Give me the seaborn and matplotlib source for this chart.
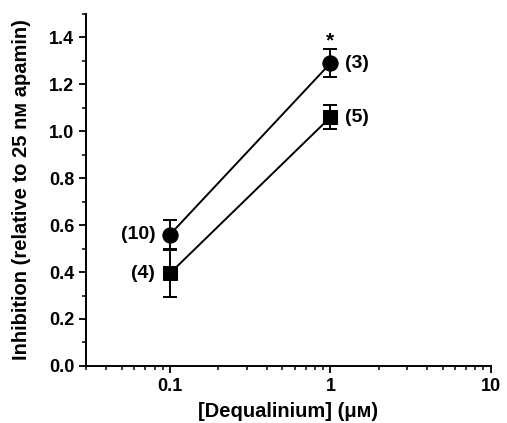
import numpy as np
import pandas as pd
import seaborn as sns
import matplotlib.pyplot as plt
from matplotlib.ticker import LogLocator, MultipleLocator, FixedFormatter, FixedLocator

# ── Data ─────────────────────────────────────────────────────────────────────
conc        = [0.1, 1.0]
circle_mean = [0.56, 1.29]
circle_err  = [0.06, 0.06]
square_mean = [0.395, 1.06]
square_err  = [0.10, 0.05]
circle_n    = ["(10)", "(3)"]
square_n    = ["(4)", "(5)"]

df = pd.DataFrame({
    "conc"  : conc * 2,
    "value" : circle_mean + square_mean,
    "series": ["circle"] * 2 + ["square"] * 2,
})

sns.set_style("ticks")
plt.rcParams["font.family"] = ["Liberation Sans", "DejaVu Sans"]
plt.rcParams["font.weight"] = "bold"
plt.rcParams["text.color"] = "black"
plt.rcParams["axes.labelcolor"] = "black"
plt.rcParams["xtick.color"] = "black"
plt.rcParams["ytick.color"] = "black"
plt.rcParams["axes.edgecolor"] = "black"

fig = plt.figure(figsize=(5.07, 4.23), dpi=100)
ax = fig.add_axes([0.170, 0.135, 0.798, 0.832])

sns.lineplot(
    data=df, x="conc", y="value", style="series",
    markers={"circle": "o", "square": "s"}, dashes=False,
    color="black", linewidth=1.4, markersize=11, ax=ax, legend=False,
    markeredgecolor="black",
)
# squares are a little smaller than circles in the original
for ln in ax.lines:
    if ln.get_marker() == "s":
        ln.set_markersize(9.5)

for mean, err in [(circle_mean, circle_err), (square_mean, square_err)]:
    ax.errorbar(conc, mean, yerr=err, fmt="none", ecolor="black",
                elinewidth=1.4, capsize=5, capthick=1.4)

# n labels
lab = dict(fontsize=14, fontweight="bold", va="center")
ax.text(0.1 * 0.81, circle_mean[0], circle_n[0], ha="right", **lab)
ax.text(0.1 * 0.81, square_mean[0], square_n[0], ha="right", **lab)
ax.text(1.0 * 1.24, circle_mean[1], circle_n[1], ha="left", **lab)
ax.text(1.0 * 1.24, square_mean[1], square_n[1], ha="left", **lab)
ax.text(1.0, 1.385, "*", ha="center", va="center", fontsize=15, fontweight="bold")

ax.set_xscale("log")
ax.set_xlim(0.03, 10)
ax.set_ylim(0, 1.5)
ax.xaxis.set_major_locator(FixedLocator([0.1, 1, 10]))
ax.xaxis.set_major_formatter(FixedFormatter(["0.1", "1", "10"]))
ax.xaxis.set_minor_locator(LogLocator(base=10, subs=np.arange(2, 10)))
ax.yaxis.set_major_locator(MultipleLocator(0.2))
ax.yaxis.set_minor_locator(MultipleLocator(0.1))
ax.yaxis.set_major_formatter(plt.FuncFormatter(lambda v, p: f"{v:.1f}"))

ax.tick_params(which="major", direction="out", length=5, width=1.3, labelsize=13)
ax.tick_params(which="minor", direction="out", length=3, width=1.1)
for s in ["left", "bottom"]:
    ax.spines[s].set_linewidth(1.4)
sns.despine(ax=ax)

ax.set_xlabel("[Dequalinium] (\u03bcᴍ)", fontsize=14.5, fontweight="bold", labelpad=5)
ax.set_ylabel("Inhibition (relative to 25 nᴍ apamin)", fontsize=14.5, fontweight="bold", labelpad=13)

fig.savefig("out.png", dpi=100)
